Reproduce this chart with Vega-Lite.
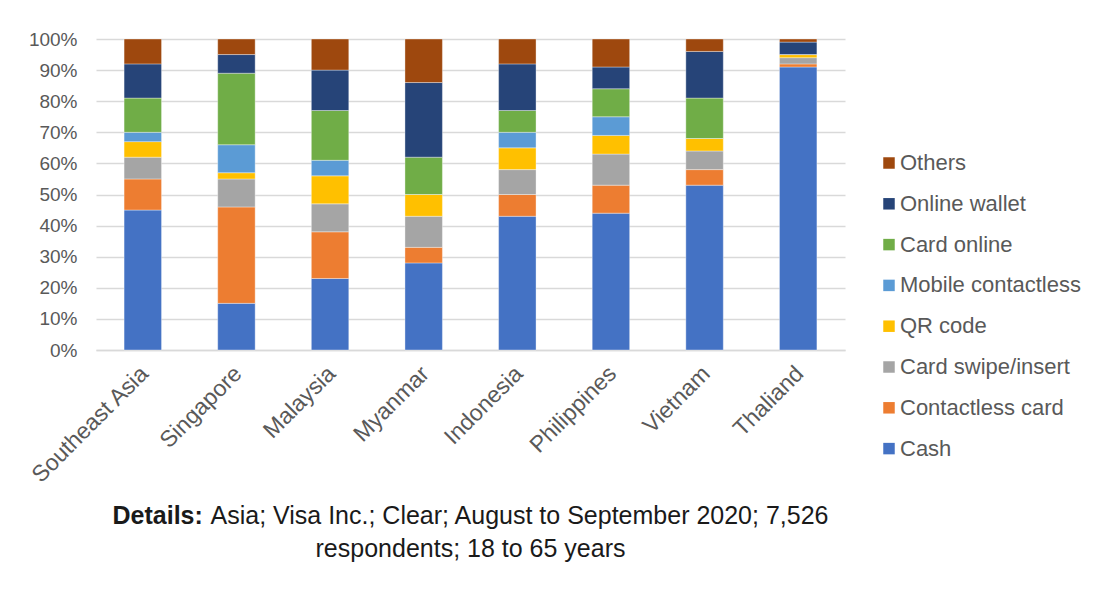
{
  "$schema": "https://vega.github.io/schema/vega-lite/v6.json",
  "width": 749,
  "height": 311,
  "autosize": {"type": "none"},
  "padding": {"left": 96, "top": 39, "right": 265, "bottom": 244},
  "background": "#ffffff",
  "title": {
    "text": "respondents; 18 to 65 years",
    "orient": "bottom",
    "anchor": "middle",
    "offset": 9,
    "font": "Liberation Sans",
    "fontSize": 25,
    "fontWeight": "normal",
    "color": "#1a1a1a"
  },
  "data": {
    "values": [
      {"region": "Southeast Asia", "method": "Cash", "k": 1, "share": 45},
      {"region": "Southeast Asia", "method": "Contactless card", "k": 2, "share": 10},
      {"region": "Southeast Asia", "method": "Card swipe/insert", "k": 3, "share": 7},
      {"region": "Southeast Asia", "method": "QR code", "k": 4, "share": 5},
      {"region": "Southeast Asia", "method": "Mobile contactless", "k": 5, "share": 3},
      {"region": "Southeast Asia", "method": "Card online", "k": 6, "share": 11},
      {"region": "Southeast Asia", "method": "Online wallet", "k": 7, "share": 11},
      {"region": "Southeast Asia", "method": "Others", "k": 8, "share": 8},

      {"region": "Singapore", "method": "Cash", "k": 1, "share": 15},
      {"region": "Singapore", "method": "Contactless card", "k": 2, "share": 31},
      {"region": "Singapore", "method": "Card swipe/insert", "k": 3, "share": 9},
      {"region": "Singapore", "method": "QR code", "k": 4, "share": 2},
      {"region": "Singapore", "method": "Mobile contactless", "k": 5, "share": 9},
      {"region": "Singapore", "method": "Card online", "k": 6, "share": 23},
      {"region": "Singapore", "method": "Online wallet", "k": 7, "share": 6},
      {"region": "Singapore", "method": "Others", "k": 8, "share": 5},

      {"region": "Malaysia", "method": "Cash", "k": 1, "share": 23},
      {"region": "Malaysia", "method": "Contactless card", "k": 2, "share": 15},
      {"region": "Malaysia", "method": "Card swipe/insert", "k": 3, "share": 9},
      {"region": "Malaysia", "method": "QR code", "k": 4, "share": 9},
      {"region": "Malaysia", "method": "Mobile contactless", "k": 5, "share": 5},
      {"region": "Malaysia", "method": "Card online", "k": 6, "share": 16},
      {"region": "Malaysia", "method": "Online wallet", "k": 7, "share": 13},
      {"region": "Malaysia", "method": "Others", "k": 8, "share": 10},

      {"region": "Myanmar", "method": "Cash", "k": 1, "share": 28},
      {"region": "Myanmar", "method": "Contactless card", "k": 2, "share": 5},
      {"region": "Myanmar", "method": "Card swipe/insert", "k": 3, "share": 10},
      {"region": "Myanmar", "method": "QR code", "k": 4, "share": 7},
      {"region": "Myanmar", "method": "Mobile contactless", "k": 5, "share": 0},
      {"region": "Myanmar", "method": "Card online", "k": 6, "share": 12},
      {"region": "Myanmar", "method": "Online wallet", "k": 7, "share": 24},
      {"region": "Myanmar", "method": "Others", "k": 8, "share": 14},

      {"region": "Indonesia", "method": "Cash", "k": 1, "share": 43},
      {"region": "Indonesia", "method": "Contactless card", "k": 2, "share": 7},
      {"region": "Indonesia", "method": "Card swipe/insert", "k": 3, "share": 8},
      {"region": "Indonesia", "method": "QR code", "k": 4, "share": 7},
      {"region": "Indonesia", "method": "Mobile contactless", "k": 5, "share": 5},
      {"region": "Indonesia", "method": "Card online", "k": 6, "share": 7},
      {"region": "Indonesia", "method": "Online wallet", "k": 7, "share": 15},
      {"region": "Indonesia", "method": "Others", "k": 8, "share": 8},

      {"region": "Philippines", "method": "Cash", "k": 1, "share": 44},
      {"region": "Philippines", "method": "Contactless card", "k": 2, "share": 9},
      {"region": "Philippines", "method": "Card swipe/insert", "k": 3, "share": 10},
      {"region": "Philippines", "method": "QR code", "k": 4, "share": 6},
      {"region": "Philippines", "method": "Mobile contactless", "k": 5, "share": 6},
      {"region": "Philippines", "method": "Card online", "k": 6, "share": 9},
      {"region": "Philippines", "method": "Online wallet", "k": 7, "share": 7},
      {"region": "Philippines", "method": "Others", "k": 8, "share": 9},

      {"region": "Vietnam", "method": "Cash", "k": 1, "share": 53},
      {"region": "Vietnam", "method": "Contactless card", "k": 2, "share": 5},
      {"region": "Vietnam", "method": "Card swipe/insert", "k": 3, "share": 6},
      {"region": "Vietnam", "method": "QR code", "k": 4, "share": 4},
      {"region": "Vietnam", "method": "Mobile contactless", "k": 5, "share": 0},
      {"region": "Vietnam", "method": "Card online", "k": 6, "share": 13},
      {"region": "Vietnam", "method": "Online wallet", "k": 7, "share": 15},
      {"region": "Vietnam", "method": "Others", "k": 8, "share": 4},

      {"region": "Thaliand", "method": "Cash", "k": 1, "share": 91},
      {"region": "Thaliand", "method": "Contactless card", "k": 2, "share": 1},
      {"region": "Thaliand", "method": "Card swipe/insert", "k": 3, "share": 2},
      {"region": "Thaliand", "method": "QR code", "k": 4, "share": 1},
      {"region": "Thaliand", "method": "Mobile contactless", "k": 5, "share": 0},
      {"region": "Thaliand", "method": "Card online", "k": 6, "share": 0},
      {"region": "Thaliand", "method": "Online wallet", "k": 7, "share": 4},
      {"region": "Thaliand", "method": "Others", "k": 8, "share": 1}
    ]
  },
  "mark": {
    "type": "bar",
    "stroke": "#ffffff",
    "strokeWidth": 0.6,
    "strokeOpacity": 0.6
  },
  "encoding": {
    "x": {
      "field": "region",
      "type": "nominal",
      "sort": ["Southeast Asia", "Singapore", "Malaysia", "Myanmar", "Indonesia", "Philippines", "Vietnam", "Thaliand"],
      "scale": {"paddingInner": 0.6, "paddingOuter": 0.3},
      "axis": {
        "title": "Asia; Visa Inc.; Clear; August to September 2020; 7,526",
        "titleX": 114,
        "titleY": 173,
        "titleAlign": "left",
        "titleAnchor": "start",
        "titleBaseline": "alphabetic",
        "titleFont": "Liberation Sans",
        "titleFontSize": 25,
        "titleFontWeight": "normal",
        "titleColor": "#1a1a1a",
        "labelAngle": -45,
        "labelFont": "Liberation Sans",
        "labelFontSize": 23,
        "labelColor": "#595959",
        "labelPadding": 12,
        "labelOffset": -6,
        "ticks": false,
        "domainColor": "#d9d9d9",
        "domainWidth": 1.5
      }
    },
    "y": {
      "field": "share",
      "type": "quantitative",
      "stack": "zero",
      "scale": {"domain": [0, 100], "nice": false},
      "axis": {
        "values": [0, 10, 20, 30, 40, 50, 60, 70, 80, 90, 100],
        "labelExpr": "datum.value + '%'",
        "title": "Details:",
        "titleAngle": 0,
        "titleX": 16,
        "titleY": 484,
        "titleAlign": "left",
        "titleAnchor": "start",
        "titleBaseline": "alphabetic",
        "titleFont": "Liberation Sans",
        "titleFontSize": 25,
        "titleFontWeight": "bold",
        "titleColor": "#1a1a1a",
        "labelFont": "Liberation Sans",
        "labelFontSize": 19,
        "labelColor": "#595959",
        "labelPadding": 19,
        "ticks": false,
        "domain": false,
        "grid": true,
        "gridColor": "#d9d9d9",
        "gridWidth": 1.5
      }
    },
    "color": {
      "field": "method",
      "type": "nominal",
      "scale": {
        "domain": ["Cash", "Contactless card", "Card swipe/insert", "QR code", "Mobile contactless", "Card online", "Online wallet", "Others"],
        "range": ["#4472c4", "#ed7d31", "#a5a5a5", "#ffc000", "#5b9bd5", "#70ad47", "#264478", "#9e480e"]
      },
      "legend": {
        "title": null,
        "orient": "none",
        "legendX": 782,
        "legendY": 113,
        "padding": 0,
        "values": ["Others", "Online wallet", "Card online", "Mobile contactless", "QR code", "Card swipe/insert", "Contactless card", "Cash"],
        "symbolType": "square",
        "symbolSize": 132,
        "symbolStrokeWidth": 0,
        "labelFont": "Liberation Sans",
        "labelFontSize": 22,
        "labelColor": "#595959",
        "labelOffset": 0,
        "rowPadding": 18.8,
        "labelLimit": 300
      }
    },
    "order": {"field": "k", "type": "quantitative"}
  },
  "config": {"view": {"stroke": null}}
}
